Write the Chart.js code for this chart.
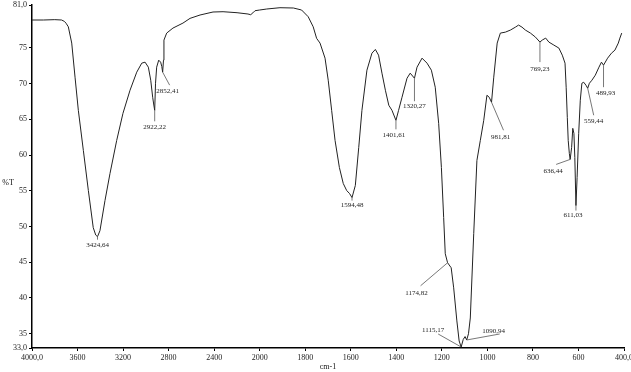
<!DOCTYPE html>
<html><head><meta charset="utf-8">
<script src="https://cdn.jsdelivr.net/npm/chart.js@4.4.1/dist/chart.umd.min.js"></script>
<style>html,body{margin:0;padding:0;background:#fff;}#wrap{width:631px;height:372px;}</style>
</head><body><div id="wrap"><canvas id="c" width="631" height="372"></canvas></div>
<script>
// ---- data (wavenumber in cm-1, %T) ----
const wavenumbers = [4000,3900,3800,3740,3715,3701,3681,3651,3622,3593,3549,3505,3462,3440,3424.64,3403,3359,3315,3256,3201,3139,3080,3036,3007,2978,2957,2940,2930,2922.22,2915,2905,2887,2870,2860,2852.41,2845,2841,2817,2762,2674,2612,2524,2410,2322,2199,2103,2079,2060,2041,2000,1969,1911,1852,1816,1787,1765,1750,1735,1713,1699,1684,1669,1650,1633,1618,1605,1594.48,1580,1565,1551,1529,1507,1492,1478,1463,1448,1433,1419,1401.61,1390,1375,1353,1339,1320.27,1309,1287,1265,1246,1229,1214,1202,1192,1185,1174.82,1159,1148,1134,1124,1115.17,1106,1098,1090.94,1083,1075,1060,1046,1031,1016,1002,992,981.81,972,957,943,921,899,877,863,848,833,811,789,769.23,759,744,730,708,686,671,659,654,649,645,640,636.44,630,625,620,616,611.03,606,599,592,585,577,567,559.44,552,541,526,510,499,489.93,472,455,440,425,418,410];
const transmittance = [78.9,78.9,78.95,78.9,78.7,78.45,77.95,75.67,70.9,66.26,60.65,55.04,49.84,48.8,48.58,49.42,53.63,57.42,62.05,65.84,69.07,71.6,72.86,73.0,72.3,70.47,68.09,67.0,66.26,70.05,72.3,73.28,73.0,72.4,71.6,73.28,76.09,77.07,77.77,78.47,79.13,79.6,80.02,80.06,79.92,79.74,79.64,79.9,80.2,80.3,80.44,80.62,80.58,80.3,79.36,77.95,76.33,75.67,73.56,70.47,66.26,62.05,58.26,56.02,55.04,54.6,54.05,55.74,61.07,66.26,71.88,74.26,74.78,73.98,71.46,69.07,66.97,66.26,64.86,66.26,68.09,70.75,71.46,70.75,72.3,73.56,72.86,71.88,69.49,64.44,58.26,51.25,46.19,44.93,44.23,41.42,36.79,33.98,33.14,34.2,34.6,34.12,35.0,37.2,49.0,59.25,62.05,64.86,68.37,68.09,67.39,70.9,75.67,77.07,77.2,77.49,77.9,78.19,77.9,77.49,77.07,76.51,75.81,76.09,76.37,75.81,75.39,74.97,73.98,72.86,69.49,65.28,62.05,60.2,59.39,61.07,63.74,63.04,59.67,52.93,56.86,63.04,67.67,70.05,70.19,69.77,69.35,70.05,70.47,71.18,72.3,73.0,72.58,73.56,74.26,74.68,75.67,76.37,77.07];
const peakWavenumbers = [3424.64,2922.22,2852.41,1594.48,1401.61,1320.27,1174.82,1115.17,1090.94,981.81,769.23,636.44,611.03,559.44,489.93];
const peakTransmittance = [48.58,66.26,71.6,54.05,64.86,70.75,44.93,33.14,34.12,67.39,75.81,59.39,52.93,69.35,72.58];
const xTickLabels = ['4000,0','3600','3200','2800','2400','2000','1800','1600','1400','1200','1000','800','600','400,0'];
const yTickValues = [33,35,40,45,50,55,60,65,70,75,81];
const xTitle = 'cm-1';
const yTitle = '%T';

// ---- presentation ----
// label leader layout per peak: [lineDx, lineDy, textDx, textDy] in px
const peakLabelLayout = [[0,3,0,8],[0,11,0,17],[7,13,5,19],[0,3,0,8],[0,9,-2,15],[0,23,0,28],[-27,23,-31,30],[-23,-13,-28,-17],[33,-6,27,-9],[12,28,9,35],[0,20,0,27],[-14,5,-17,12],[0,5,-3,10],[6,27,6,33],[0,22,2,28]];

// instrument axis: 4000-2000 at 400 cm-1 per division, 2000-400 at 200 cm-1 per division
function toAxis(w){ return w >= 2000 ? (4000 - w) / 400 : 5 + (2000 - w) / 200; }
function fmt(v, d){ return v.toFixed(d).replace('.', ','); }

const points = wavenumbers.map((w, i) => ({x: toAxis(w), y: transmittance[i]}));
const FONT = '"Liberation Serif", serif';

const annot = {
  id: 'annot',
  afterDatasetsDraw(chart){
    const {ctx, scales:{x, y}, chartArea} = chart;
    ctx.save();
    ctx.strokeStyle = '#555'; ctx.lineWidth = 0.8; ctx.fillStyle = '#222';
    ctx.font = '7px ' + FONT;
    ctx.textAlign = 'center'; ctx.textBaseline = 'middle';
    peakWavenumbers.forEach((w, i) => {
      const px = x.getPixelForValue(toAxis(w));
      const py = y.getPixelForValue(peakTransmittance[i]);
      const [lx, ly, tx, ty] = peakLabelLayout[i];
      ctx.beginPath(); ctx.moveTo(px, py); ctx.lineTo(px + lx, py + ly); ctx.stroke();
      ctx.fillText(fmt(w, 2), px + tx, py + ty);
    });
    ctx.font = '8px ' + FONT; ctx.fillStyle = '#111';
    ctx.fillText(yTitle, 8, (chartArea.top + chartArea.bottom) / 2 + 6);
    ctx.fillText(xTitle, (chartArea.left + chartArea.right) / 2, chart.height - 5);
    ctx.restore();
  }
};

new Chart(document.getElementById('c'), {
  type: 'line',
  data: { datasets: [{ data: points, borderColor: '#222', borderWidth: 1, pointRadius: 0, tension: 0, fill: false }] },
  options: {
    responsive: false, animation: false, devicePixelRatio: 1,
    layout: { padding: { left: 0, top: 5, right: 7, bottom: 0 } },
    plugins: { legend: { display: false }, tooltip: { enabled: false } },
    scales: {
      x: {
        type: 'linear', min: 0, max: 13,
        afterBuildTicks: s => { s.ticks = xTickLabels.map((_, i) => ({value: i})); },
        afterFit: s => { s.height = 24; s.paddingLeft = 0; s.paddingRight = 0; },
        ticks: { autoSkip: false, maxRotation: 0, padding: 2, color: '#222', font: { family: FONT, size: 8 },
          callback: v => xTickLabels[Math.round(v)] },
        grid: { drawOnChartArea: false, drawTicks: true, tickLength: 3, color: '#000' },
        border: { display: true, color: '#000', width: 1.5 }
      },
      y: {
        type: 'linear', min: 33, max: 81,
        afterBuildTicks: s => { s.ticks = yTickValues.map(v => ({value: v})); },
        afterFit: s => { s.width = 32; s.paddingTop = 0; s.paddingBottom = 0; },
        ticks: { autoSkip: false, padding: 2, color: '#222', font: { family: FONT, size: 8 },
          callback: v => (v === 81 || v === 33) ? fmt(v, 1) : String(v) },
        grid: { drawOnChartArea: false, drawTicks: true, tickLength: 3, color: '#000' },
        border: { display: true, color: '#000', width: 1.5 }
      }
    }
  },
  plugins: [annot]
});
</script></body></html>
